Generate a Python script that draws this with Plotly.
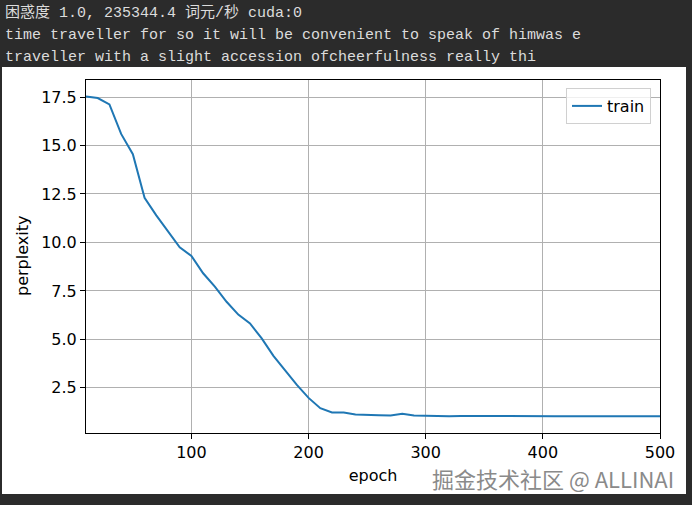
import plotly.graph_objects as go

# console output printed above the figure
console_lines = [
    "困惑度 1.0, 235344.4 词元/秒 cuda:0",
    "time traveller for so it will be convenient to speak of himwas e",
    "traveller with a slight accession ofcheerfulness really thi",
]

epochs = [10, 20, 30, 40, 50, 60, 70, 80, 90, 100,
          110, 120, 130, 140, 150, 160, 170, 180, 190, 200,
          210, 220, 230, 240, 250, 260, 270, 280, 290, 300,
          310, 320, 330, 340, 350, 360, 370, 380, 390, 400,
          410, 420, 430, 440, 450, 460, 470, 480, 490, 500]
train_ppl = [17.53, 17.45, 17.12, 15.6, 14.55, 12.3, 11.4, 10.55, 9.75, 9.3,
             8.41, 7.72, 6.94, 6.28, 5.82, 5.05, 4.15, 3.4, 2.65, 1.98,
             1.45, 1.23, 1.23, 1.12, 1.09, 1.09, 1.07, 1.16, 1.07, 1.05,
             1.05, 1.04, 1.05, 1.04, 1.04, 1.05, 1.05, 1.04, 1.04, 1.04,
             1.04, 1.04, 1.04, 1.03, 1.04, 1.04, 1.03, 1.04, 1.04, 1.04]

W, H = 692, 505
L, R, T, B = 86, 660, 80, 433  # plot area in pixels


def px(x, y):
    """pixel position -> paper coordinates"""
    return (x - L) / (R - L), (B - y) / (B - T)


fig = go.Figure()
fig.add_trace(go.Scatter(x=epochs, y=train_ppl, mode="lines", name="train",
                         line=dict(color="#1f77b4", width=2)))

# white matplotlib canvas sitting in the dark console
x0, y0 = px(2, 494)
x1, y1 = px(686, 67)
fig.add_shape(type="rect", xref="paper", yref="paper", x0=x0, y0=y0, x1=x1, y1=y1,
              fillcolor="white", line_width=0, layer="below")

mono = "Liberation Mono, Noto Sans CJK SC, monospace"
for i, txt in enumerate(console_lines):
    ax, ay = px(3, 13 + 22 * i)
    fig.add_annotation(text=txt, xref="paper", yref="paper", x=ax, y=ay,
                       xanchor="left", yanchor="middle", showarrow=False,
                       font=dict(family=mono, size=15, color="#dcdcdc"))

wx, wy = px(676, 478)
fig.add_annotation(text="掘金技术社区 @ ALLINAI", xref="paper", yref="paper",
                   x=wx, y=wy, xanchor="right", yanchor="middle", showarrow=False,
                   font=dict(family="Noto Sans CJK SC", size=22, color="#8a8a8a"))

tick_font = dict(family="DejaVu Sans", size=16, color="black")

# y label placed by hand, plotly keeps it too far from the ticks
yx, yy = px(22, 256)
fig.add_annotation(text="perplexity", xref="paper", yref="paper", x=yx, y=yy,
                   textangle=-90, xanchor="center", yanchor="middle",
                   showarrow=False, font=tick_font)

axis_common = dict(showline=True, linecolor="black", linewidth=1, mirror=True,
                   ticks="outside", ticklen=5, tickcolor="black",
                   showgrid=True, gridcolor="#b0b0b0", gridwidth=1,
                   zeroline=False, tickfont=tick_font)

fig.update_xaxes(range=[10, 500], tick0=0, dtick=100,
                 title=dict(text="epoch", font=tick_font, standoff=8),
                 **axis_common)
fig.update_yaxes(range=[0.17, 18.38], tick0=0, dtick=2.5, tickformat=".1f",
                 **axis_common)

lx, ly = px(651, 88)
fig.update_layout(
    width=W, height=H,
    margin=dict(l=L, r=W - R, t=T, b=H - B),
    paper_bgcolor="#2b2b2b", plot_bgcolor="white",
    font=dict(family="DejaVu Sans", color="black"),
    showlegend=True,
    legend=dict(x=lx, y=ly, xanchor="right", yanchor="top",
                bgcolor="rgba(255,255,255,0.8)", bordercolor="#d0d0d0", borderwidth=1,
                font=tick_font),
)

fig.write_html("out.html", config={"displayModeBar": False},
               post_script="document.body.style.margin='0';")
